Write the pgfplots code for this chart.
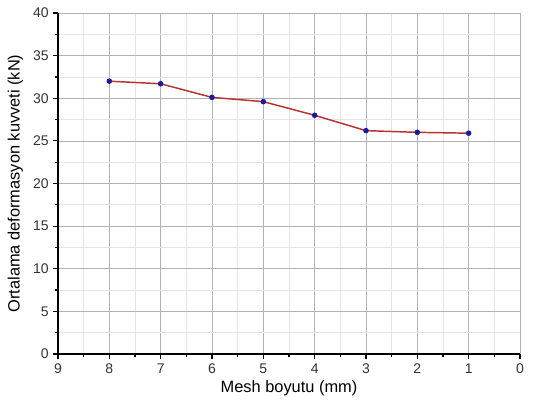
\documentclass[border=0pt]{standalone}
\usepackage{pgfplots}
\pgfplotsset{compat=1.18}
\usepackage{fontspec}
\setmainfont{Liberation Sans}
\definecolor{linered}{HTML}{B83232}
\definecolor{markblue}{HTML}{1A1A9E}
\begin{document}
\begin{tikzpicture}
\begin{axis}[
  name=ax,
  scale only axis,
  width=346.5pt, height=255.75pt,
  x dir=reverse,
  xmin=0, xmax=9, ymin=0, ymax=40,
  xtick={0,1,...,9}, ytick={0,5,...,40},
  minor xtick={0.5,1.5,...,8.5}, minor ytick={2.5,7.5,...,37.5},
  grid=both,
  major grid style={draw=gray!60, line width=0.5pt},
  minor grid style={draw=gray!20, line width=0.5pt},
  axis x line*=bottom, axis y line*=left,
  axis line style={line width=0.9pt, -},
  tick align=outside,
  major tick length=3.5pt, minor tick length=2pt,
  tick style={black, line width=0.9pt},
  /pgf/number format/assume math mode=true,
  ticklabel style={font=\fontsize{10.5}{12}\selectfont, text=black!80},
  label style={font=\fontsize{12.3}{14}\selectfont},
  xlabel={Mesh boyutu (mm)},
  ylabel={Ortalama deformasyon kuvveti (kN)},
  xlabel style={at={(axis description cs:0.5,0)}, anchor=center, yshift=-25.5pt},
  ylabel style={at={(axis description cs:0,0.5)}, anchor=center, yshift=32pt},
  clip=false,
]
\addplot[color=linered, line width=1.1pt, mark=*, mark size=1.5pt,
  mark options={draw=markblue, fill=markblue}]
  coordinates {(8,32.0) (7,31.7) (6,30.1) (5,29.6) (4,28.0) (3,26.2) (2,26.0) (1,25.9)};
\end{axis}
\pgfresetboundingbox
\path[use as bounding box] (ax.south west) ++(-43.5pt,-41.25pt) rectangle ++(405pt,306.75pt);
\end{tikzpicture}
\end{document}
